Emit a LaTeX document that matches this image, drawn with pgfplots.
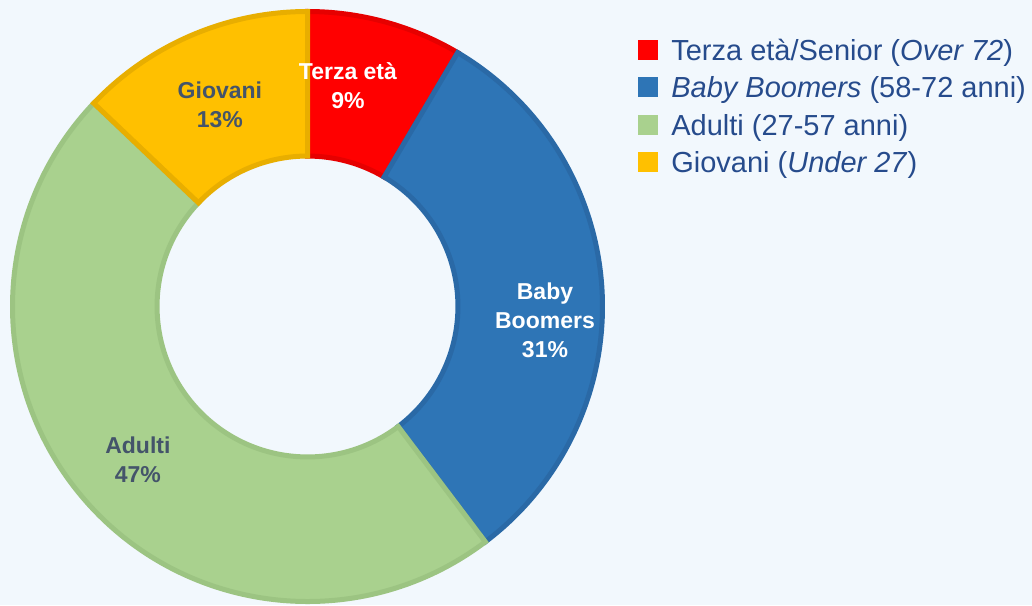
\documentclass[border=0pt]{standalone}
\usepackage{fontspec}
\setmainfont{Liberation Sans}
\usepackage{pgfplots}
\usepackage{pgfplotstable}
\pgfplotsset{compat=1.18}

\definecolor{bgc}{HTML}{F2F8FD}
\definecolor{cRed}{HTML}{FF0000}
\definecolor{cRedD}{HTML}{E60000}
\definecolor{cBlue}{HTML}{2E75B6}
\definecolor{cBlueD}{HTML}{2A69A6}
\definecolor{cGreen}{HTML}{A9D18E}
\definecolor{cGreenD}{HTML}{9CC482}
\definecolor{cYellow}{HTML}{FFC000}
\definecolor{cYellowD}{HTML}{E8AE00}
\definecolor{legtext}{HTML}{264B8C}
\definecolor{labdark}{HTML}{44546A}

% share of each age group, in per cent
\pgfplotstableread{
group   value
terza   8.5
baby    31.2
adulti  47.4
giovani 12.9
}\agedata

\begin{document}
\begin{tikzpicture}
\fill[bgc] (0,0) rectangle (516pt,302.5pt);

% cumulative angles, clockwise from the top
\pgfplotstablegetelem{0}{value}\of\agedata \let\vA\pgfplotsretval
\pgfplotstablegetelem{1}{value}\of\agedata \let\vB\pgfplotsretval
\pgfplotstablegetelem{2}{value}\of\agedata \let\vC\pgfplotsretval
\pgfplotstablegetelem{3}{value}\of\agedata \let\vD\pgfplotsretval
\pgfmathsetmacro\aA{90}
\pgfmathsetmacro\aB{\aA-3.6*\vA}
\pgfmathsetmacro\aC{\aB-3.6*\vB}
\pgfmathsetmacro\aD{\aC-3.6*\vC}
\pgfmathsetmacro\aE{\aD-3.6*\vD}
\def\rin{0.51}

\begin{axis}[
    at={(153.75pt,149.25pt)}, anchor=center,
    scale only axis, width=295pt, height=295pt,
    xmin=-1, xmax=1, ymin=-1, ymax=1,
    hide axis,
    clip=false,
    legend style={at={(1.06,0.961)}, anchor=north west, draw=none,
      fill=none, font=\fontsize{14.5}{17}\selectfont\color{legtext},
      cells={anchor=west}, row sep=2.7pt, inner sep=0pt},
    legend image code/.code={\path[draw=none, fill=none] (0pt,0pt) rectangle (14.5pt,0.1pt);
      \fill[#1, draw=none] (0pt,-4.3pt) rectangle (10pt,5.7pt);},
]
\addlegendimage{cRed}
\addlegendentry{Terza età/Senior (\textit{Over 72})}
\addlegendimage{cBlue}
\addlegendentry{\textit{Baby Boomers} (58-72 anni)}
\addlegendimage{cGreen}
\addlegendentry{Adulti (27-57 anni)}
\addlegendimage{cYellow}
\addlegendentry{Giovani (\textit{Under 27})}

\fill[cRed, draw=cRedD, line width=2.5pt]
  (axis cs:{cos(\aA)},{sin(\aA)}) arc[start angle=\aA, end angle=\aB, radius=1]
  -- (axis cs:{\rin*cos(\aB)},{\rin*sin(\aB)}) arc[start angle=\aB, end angle=\aA, radius=\rin] -- cycle;
\fill[cBlue, draw=cBlueD, line width=2.5pt]
  (axis cs:{cos(\aB)},{sin(\aB)}) arc[start angle=\aB, end angle=\aC, radius=1]
  -- (axis cs:{\rin*cos(\aC)},{\rin*sin(\aC)}) arc[start angle=\aC, end angle=\aB, radius=\rin] -- cycle;
\fill[cGreen, draw=cGreenD, line width=2.5pt]
  (axis cs:{cos(\aC)},{sin(\aC)}) arc[start angle=\aC, end angle=\aD, radius=1]
  -- (axis cs:{\rin*cos(\aD)},{\rin*sin(\aD)}) arc[start angle=\aD, end angle=\aC, radius=\rin] -- cycle;
\fill[cYellow, draw=cYellowD, line width=2.5pt]
  (axis cs:{cos(\aD)},{sin(\aD)}) arc[start angle=\aD, end angle=\aE, radius=1]
  -- (axis cs:{\rin*cos(\aE)},{\rin*sin(\aE)}) arc[start angle=\aE, end angle=\aD, radius=\rin] -- cycle;

\begin{scope}[font=\fontsize{11.5}{14.5}\selectfont\bfseries, align=center]
\node[white] at (axis cs:0.137,0.75) {Terza età\\9\%};
\node[white] at (axis cs:0.805,-0.046) {Baby\\Boomers\\31\%};
\node[labdark] at (axis cs:-0.575,-0.52) {Adulti\\47\%};
\node[labdark] at (axis cs:-0.297,0.683) {Giovani\\13\%};
\end{scope}
\end{axis}
\pgfresetboundingbox
\path[use as bounding box] (0,0) rectangle (516pt,302.5pt);
\end{tikzpicture}
\end{document}
